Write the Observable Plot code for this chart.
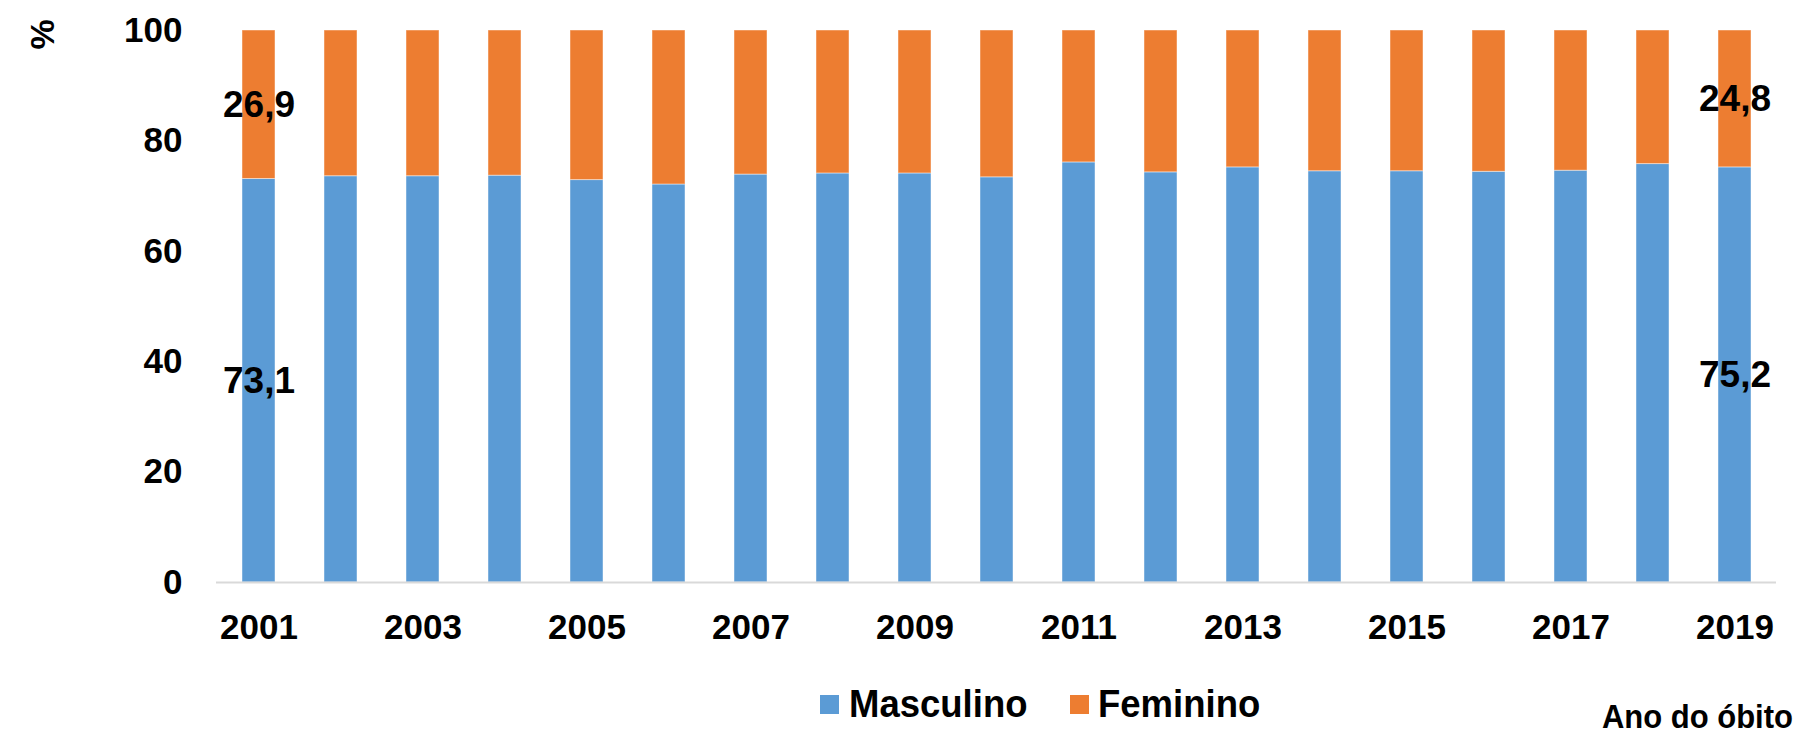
<!DOCTYPE html>
<html>
<head>
<meta charset="utf-8">
<script src="https://cdn.jsdelivr.net/npm/d3@7"></script>
<script src="https://cdn.jsdelivr.net/npm/@observablehq/plot@0.6"></script>
<style>
  html, body { margin: 0; padding: 0; background: #fff; }
  body { font-family: "Liberation Sans", Arial, sans-serif; font-weight: bold; }
  #wrap { width: 1800px; }
  #below { position: relative; width: 1800px; height: 73px; }
  .sw { position: absolute; width: 19px; height: 19px; }
  .lt { position: absolute; font-size: 36.5px; line-height: 36px; color: #000; white-space: nowrap; transform: scaleY(1.08); transform-origin: center; }
  #xl { position: absolute; right: 7px; font-size: 31px; line-height: 28px; color: #000; white-space: nowrap; transform: scaleY(1.08); transform-origin: center; }
</style>
</head>
<body>
<div id="wrap"></div>
<div id="below">
  <div class="sw" style="left:820px; top:35px; background:#5B9BD5"></div>
  <div class="lt" style="left:849px; top:26px;">Masculino</div>
  <div class="sw" style="left:1070px; top:35px; background:#ED7D31"></div>
  <div class="lt" style="left:1098px; top:26px;">Feminino</div>
  <div id="xl" style="top:43px;">Ano do óbito</div>
</div>
<script>
const years = [2001,2002,2003,2004,2005,2006,2007,2008,2009,2010,2011,2012,2013,2014,2015,2016,2017,2018,2019];
const masculino = [73.1,73.6,73.6,73.7,72.9,72.1,73.9,74.1,74.1,73.4,76.1,74.3,75.2,74.5,74.5,74.4,74.6,75.8,75.2];
const feminino = masculino.map(v => +(100 - v).toFixed(1));
const series = ["Masculino", "Feminino"];
const colors = ["#5B9BD5", "#ED7D31"];
const yTicks = [0, 20, 40, 60, 80, 100];
const xTicks = [2001,2003,2005,2007,2009,2011,2013,2015,2017,2019];
const labelYears = [2001, 2019];

const rows = [];
years.forEach((y, i) => {
  rows.push({year: y, sex: "Masculino", value: masculino[i]});
  rows.push({year: y, sex: "Feminino", value: feminino[i]});
});
const labelRows = rows.filter(d => labelYears.includes(d.year));
const fmt = v => v.toFixed(1).replace(".", ",");

const chart = Plot.plot({
  width: 1800,
  height: 660,
  marginLeft: 216,
  marginRight: 24,
  marginTop: 30,
  marginBottom: 78,
  style: {fontFamily: "'Liberation Sans', Arial, sans-serif", fontWeight: "bold", color: "#000", background: "#fff"},
  x: {type: "band", domain: years, paddingInner: 0.6, paddingOuter: 0.3},
  y: {domain: [0, 100]},
  color: {domain: series, range: colors},
  marks: [
    Plot.barY(rows, {x: "year", y: "value", fill: "sex", stroke: "white", strokeOpacity: 0.45, strokeWidth: 1}),
    Plot.ruleY([0], {stroke: "#d9d9d9", strokeWidth: 2}),
    Plot.text(labelRows, Plot.stackY({x: "year", y: "value", z: "sex", text: d => fmt(d.value), fontSize: 37, fontWeight: "bold", fill: "#000"})),
    Plot.axisY({ticks: yTicks, tickSize: 0, tickPadding: 34, fontSize: 35, fontWeight: "bold", label: null}),
    Plot.axisX({ticks: xTicks, tickSize: 0, tickPadding: 32, fontSize: 35, fontWeight: "bold", label: null, tickFormat: d => String(d)}),
    Plot.text(["%"], {frameAnchor: "top-left", dx: -187, dy: 19, rotate: -90, fontSize: 34, fontWeight: "bold", fill: "#000"})
  ]
});
document.getElementById("wrap").appendChild(chart);
// slight vertical stretch of the upright texts, as in the reference
chart.querySelectorAll("text").forEach(t => {
  if (!t.getAttribute("transform")) {
    t.style.transformBox = "fill-box";
    t.style.transformOrigin = "center";
    t.style.transform = "scaleY(1.08)";
  }
});
</script>
</body>
</html>
